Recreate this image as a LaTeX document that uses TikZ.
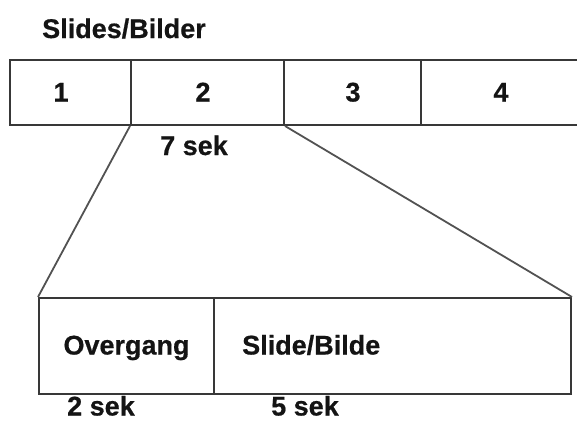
\documentclass[tikz,border=0pt]{standalone}
\usepackage{fontspec}
\setmainfont{Liberation Sans}[BoldFeatures={FakeBold=0.6}]
\begin{document}
\begin{tikzpicture}[x=1pt,y=-1pt,
  frame/.style={draw=black!78,line width=2pt,inner sep=0pt,anchor=north west},
  txt/.style={inner sep=0pt,anchor=base west,text=black!92,font=\fontsize{27}{32}\selectfont\bfseries},
  zoomline/.style={draw=black!68,line width=1.8pt}]
\useasboundingbox (0,0) rectangle (577,421);
% title
\node[txt] (title) at (42,38) {Slides/Bilder};
% row of slides (the last one runs off to the right)
\node[frame,minimum width=121,minimum height=65] (c1) at (9,59) {};
\node[frame,minimum width=153,minimum height=65] (c2) at (130,59) {};
\node[frame,minimum width=137,minimum height=65] (c3) at (283,59) {};
\node[frame,minimum width=180,minimum height=65] (c4) at (420,59) {};
\node[txt,anchor=base] (n1) at (61,101.5) {1};
\node[txt,anchor=base] (n2) at (203,101.5) {2};
\node[txt,anchor=base] (n3) at (353,101.5) {3};
\node[txt,anchor=base] (n4) at (501,101.5) {4};
\node[txt] (t7) at (160,155) {7 sek};
% one slide in detail
\node[frame,minimum width=175,minimum height=96] (ov) at (38,297) {};
\node[frame,minimum width=357,minimum height=96] (sb) at (213,297) {};
\node[txt,anchor=base] (tov) at (ov.center |- 0,354.5) {Overgang};
\node[txt] (tsb) at (242,354.5) {Slide/Bilde};
\node[txt] (t2) at (67,415.5) {2 sek};
\node[txt] (t5) at (271,415.5) {5 sek};
% zoom lines
\draw[zoomline] (c2.south west) -- (ov.north west);
\draw[zoomline] (c2.south east) -- (sb.north east);
\end{tikzpicture}
\end{document}
